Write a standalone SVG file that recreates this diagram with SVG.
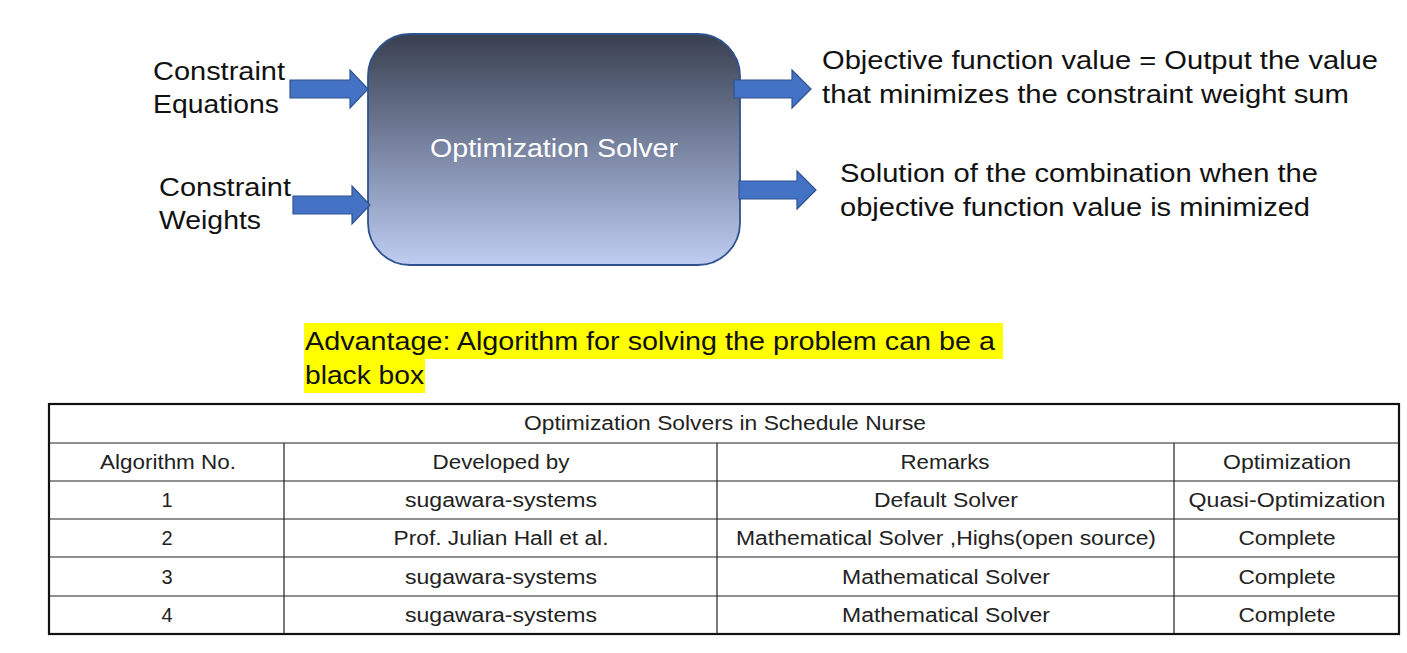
<svg xmlns="http://www.w3.org/2000/svg" width="1407" height="653" viewBox="0 0 1407 653">
<defs>
<linearGradient id="g" x1="0" y1="0" x2="0" y2="1">
<stop offset="0" stop-color="#38404f"/>
<stop offset="0.5" stop-color="#7a85a3"/>
<stop offset="1" stop-color="#bfcdf2"/>
</linearGradient>
<style>
.t{font-family:"Liberation Sans","Noto Sans",sans-serif;font-size:25px;fill:#111}
.c{font-family:"Liberation Sans","Noto Sans",sans-serif;font-size:20px;fill:#222;text-anchor:middle}
.ar{fill:#4472c4;stroke:#2f528f;stroke-width:1.2}
.ln{stroke:#222;stroke-width:1.2;fill:none}
</style>
</defs>
<rect width="1407" height="653" fill="#fff"/>
<g id="solver">
<rect x="368" y="34" width="372" height="231" rx="42" fill="url(#g)" stroke="#2f528f" stroke-width="1.8"/>
<text x="554" y="157" class="t" style="fill:#fff;text-anchor:middle" textLength="248" lengthAdjust="spacingAndGlyphs">Optimization Solver</text>
</g>
<g id="input-equations">
<text class="t" x="153" y="80" textLength="132" lengthAdjust="spacingAndGlyphs">Constraint</text>
<text class="t" x="153" y="113" textLength="126" lengthAdjust="spacingAndGlyphs">Equations</text>
</g>
<g id="input-weights">
<text class="t" x="159" y="196" textLength="132" lengthAdjust="spacingAndGlyphs">Constraint</text>
<text class="t" x="159" y="229" textLength="102" lengthAdjust="spacingAndGlyphs">Weights</text>
</g>
<g id="output-objective">
<text class="t" x="822" y="69" textLength="556" lengthAdjust="spacingAndGlyphs">Objective function value = Output the value</text>
<text class="t" x="822" y="103" textLength="527" lengthAdjust="spacingAndGlyphs">that minimizes the constraint weight sum</text>
</g>
<g id="output-solution">
<text class="t" x="840" y="182" textLength="478" lengthAdjust="spacingAndGlyphs">Solution of the combination when the</text>
<text class="t" x="840" y="216" textLength="470" lengthAdjust="spacingAndGlyphs">objective function value is minimized</text>
</g>
<g id="connectors">
<path class="ar" d="M290 80 H350 V70 L368 89 L350 108 V98 H290 Z"/>
<path class="ar" d="M293 196 H352 V186 L370 205 L352 224 V214 H293 Z"/>
<path class="ar" d="M734 80 H792 V70 L811 89 L792 108 V98 H734 Z"/>
<path class="ar" d="M739 181 H797 V171 L816 190 L797 209 V199 H739 Z"/>
</g>
<g id="advantage">
<rect x="304" y="323" width="699" height="36" fill="#ffff00"/>
<rect x="304" y="358" width="121" height="35" fill="#ffff00"/>
<text class="t" x="305" y="350" textLength="690" lengthAdjust="spacingAndGlyphs">Advantage: Algorithm for solving the problem can be a</text>
<text class="t" x="305" y="384" textLength="119" lengthAdjust="spacingAndGlyphs">black box</text>
</g>
<g id="table">
<rect x="49" y="404" width="1350" height="230" fill="#fff" stroke="#111" stroke-width="2.2"/>
<path class="ln" d="M49 443 H1399 M49 481 H1399 M49 519 H1399 M49 557 H1399 M49 596 H1399 M284 443 V634 M717 443 V634 M1174 443 V634"/>
<text class="c" x="725" y="430" textLength="402" lengthAdjust="spacingAndGlyphs">Optimization Solvers in Schedule Nurse</text>
<text class="c" x="168" y="469" textLength="136" lengthAdjust="spacingAndGlyphs">Algorithm No.</text>
<text class="c" x="501" y="469" textLength="137" lengthAdjust="spacingAndGlyphs">Developed by</text>
<text class="c" x="945" y="469" textLength="89" lengthAdjust="spacingAndGlyphs">Remarks</text>
<text class="c" x="1287" y="469" textLength="128" lengthAdjust="spacingAndGlyphs">Optimization</text>
<text class="c" x="167" y="507">1</text>
<text class="c" x="501" y="507" textLength="192" lengthAdjust="spacingAndGlyphs">sugawara-systems</text>
<text class="c" x="946" y="507" textLength="144" lengthAdjust="spacingAndGlyphs">Default Solver</text>
<text class="c" x="1287" y="507" textLength="197" lengthAdjust="spacingAndGlyphs">Quasi-Optimization</text>
<text class="c" x="167" y="545">2</text>
<text class="c" x="501" y="545" textLength="215" lengthAdjust="spacingAndGlyphs">Prof. Julian Hall et al.</text>
<text class="c" x="946" y="545" textLength="420" lengthAdjust="spacingAndGlyphs">Mathematical Solver ,Highs(open source)</text>
<text class="c" x="1287" y="545" textLength="97" lengthAdjust="spacingAndGlyphs">Complete</text>
<text class="c" x="167" y="584">3</text>
<text class="c" x="501" y="584" textLength="192" lengthAdjust="spacingAndGlyphs">sugawara-systems</text>
<text class="c" x="946" y="584" textLength="208" lengthAdjust="spacingAndGlyphs">Mathematical Solver</text>
<text class="c" x="1287" y="584" textLength="97" lengthAdjust="spacingAndGlyphs">Complete</text>
<text class="c" x="167" y="622">4</text>
<text class="c" x="501" y="622" textLength="192" lengthAdjust="spacingAndGlyphs">sugawara-systems</text>
<text class="c" x="946" y="622" textLength="208" lengthAdjust="spacingAndGlyphs">Mathematical Solver</text>
<text class="c" x="1287" y="622" textLength="97" lengthAdjust="spacingAndGlyphs">Complete</text>
</g>
</svg>
